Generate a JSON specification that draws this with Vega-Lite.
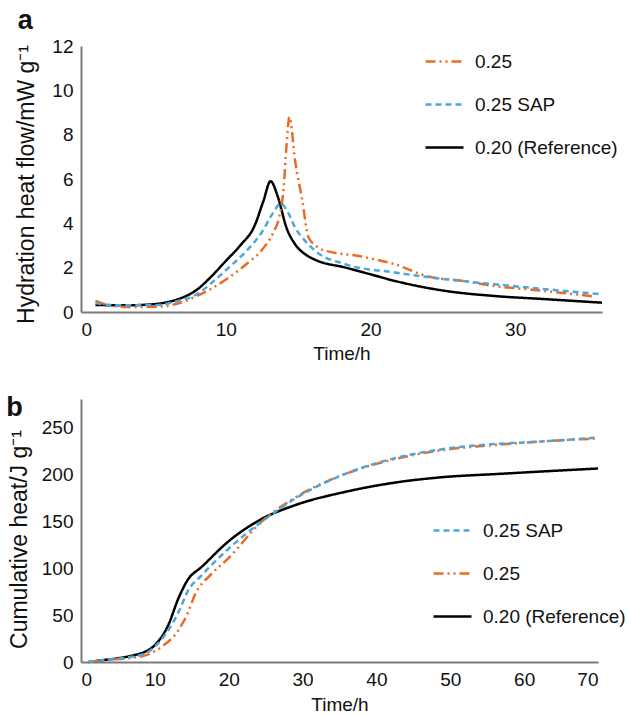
{
  "$schema": "https://vega.github.io/schema/vega-lite/v6.json",
  "background": "white",
  "padding": {"left": 6, "top": 7, "right": 0, "bottom": 5},
  "spacing": 31,
  "config": {
    "font": "Liberation Sans",
    "view": {"stroke": null},
    "axis": {
      "grid": false, "ticks": false, "domainColor": "#7a7a7a", "domainWidth": 2,
      "labelFont": "Liberation Sans", "labelFontSize": 19, "labelColor": "#111",
      "titleFont": "Liberation Sans", "titleFontSize": 19, "titleFontWeight": 400, "titleColor": "#111",
      "labelPadding": 8
    },
    "legend": {
      "labelFont": "Liberation Sans", "labelFontSize": 19, "labelColor": "#111",
      "symbolType": "stroke", "symbolSize": 1444, "symbolStrokeWidth": 2.5,
      "rowPadding": 12, "labelOffset": 10, "title": null
    },
    "title": {"font": "Liberation Sans", "fontSize": 27, "fontWeight": "bold", "anchor": "start", "frame": "bounds", "color": "#111"}
  },
  "resolve": {"scale": {"color": "independent", "strokeDash": "independent"}, "legend": {"color": "independent", "strokeDash": "independent"}},
  "vconcat": [
    {
      "title": {"text": "a", "offset": 2, "dx": 2},
      "width": 521, "height": 266,
      "data": {"values": [
        {"s": "0.20 (Reference)", "t": 1, "v": 0.32}, {"s": "0.20 (Reference)", "t": 3, "v": 0.3}, {"s": "0.20 (Reference)", "t": 5, "v": 0.35},
        {"s": "0.20 (Reference)", "t": 6, "v": 0.45}, {"s": "0.20 (Reference)", "t": 7, "v": 0.65}, {"s": "0.20 (Reference)", "t": 8, "v": 1.0},
        {"s": "0.20 (Reference)", "t": 9, "v": 1.6}, {"s": "0.20 (Reference)", "t": 10, "v": 2.3}, {"s": "0.20 (Reference)", "t": 11, "v": 3.0},
        {"s": "0.20 (Reference)", "t": 12, "v": 3.9}, {"s": "0.20 (Reference)", "t": 12.6, "v": 5.0}, {"s": "0.20 (Reference)", "t": 13.1, "v": 5.9},
        {"s": "0.20 (Reference)", "t": 13.6, "v": 5.2}, {"s": "0.20 (Reference)", "t": 14.2, "v": 3.8}, {"s": "0.20 (Reference)", "t": 14.8, "v": 3.05},
        {"s": "0.20 (Reference)", "t": 15.5, "v": 2.6}, {"s": "0.20 (Reference)", "t": 16.2, "v": 2.35}, {"s": "0.20 (Reference)", "t": 18.3, "v": 2.0},
        {"s": "0.20 (Reference)", "t": 20, "v": 1.7}, {"s": "0.20 (Reference)", "t": 21.7, "v": 1.4}, {"s": "0.20 (Reference)", "t": 25.2, "v": 0.95},
        {"s": "0.20 (Reference)", "t": 28.6, "v": 0.72}, {"s": "0.20 (Reference)", "t": 32.1, "v": 0.58}, {"s": "0.20 (Reference)", "t": 36, "v": 0.42},
        {"s": "0.25", "t": 1, "v": 0.5}, {"s": "0.25", "t": 2, "v": 0.3}, {"s": "0.25", "t": 3.5, "v": 0.22}, {"s": "0.25", "t": 5.6, "v": 0.25},
        {"s": "0.25", "t": 7, "v": 0.45}, {"s": "0.25", "t": 8, "v": 0.72}, {"s": "0.25", "t": 9, "v": 1.05}, {"s": "0.25", "t": 10.2, "v": 1.55},
        {"s": "0.25", "t": 11.5, "v": 2.2}, {"s": "0.25", "t": 12.5, "v": 2.8}, {"s": "0.25", "t": 13.3, "v": 3.6}, {"s": "0.25", "t": 13.7, "v": 4.3},
        {"s": "0.25", "t": 14.0, "v": 5.6}, {"s": "0.25", "t": 14.2, "v": 7.5}, {"s": "0.25", "t": 14.4, "v": 8.8}, {"s": "0.25", "t": 14.8, "v": 6.8},
        {"s": "0.25", "t": 15.3, "v": 5.0}, {"s": "0.25", "t": 15.7, "v": 3.4}, {"s": "0.25", "t": 16.2, "v": 3.0}, {"s": "0.25", "t": 16.7, "v": 2.8},
        {"s": "0.25", "t": 19.4, "v": 2.5}, {"s": "0.25", "t": 21.7, "v": 2.15}, {"s": "0.25", "t": 24, "v": 1.6}, {"s": "0.25", "t": 26.4, "v": 1.4},
        {"s": "0.25", "t": 28.6, "v": 1.17}, {"s": "0.25", "t": 30.9, "v": 1.02}, {"s": "0.25", "t": 33.3, "v": 0.86}, {"s": "0.25", "t": 35.5, "v": 0.7},
        {"s": "0.25 SAP", "t": 1, "v": 0.4}, {"s": "0.25 SAP", "t": 2.5, "v": 0.3}, {"s": "0.25 SAP", "t": 5, "v": 0.3}, {"s": "0.25 SAP", "t": 6.7, "v": 0.5},
        {"s": "0.25 SAP", "t": 8, "v": 0.8}, {"s": "0.25 SAP", "t": 9, "v": 1.3}, {"s": "0.25 SAP", "t": 10.2, "v": 2.0}, {"s": "0.25 SAP", "t": 11.5, "v": 2.8},
        {"s": "0.25 SAP", "t": 12.5, "v": 3.6}, {"s": "0.25 SAP", "t": 13.3, "v": 4.5}, {"s": "0.25 SAP", "t": 13.8, "v": 4.9}, {"s": "0.25 SAP", "t": 14.3, "v": 4.5},
        {"s": "0.25 SAP", "t": 14.8, "v": 3.8}, {"s": "0.25 SAP", "t": 15.5, "v": 3.2}, {"s": "0.25 SAP", "t": 16.2, "v": 2.75}, {"s": "0.25 SAP", "t": 18.3, "v": 2.15},
        {"s": "0.25 SAP", "t": 21.7, "v": 1.78}, {"s": "0.25 SAP", "t": 25.2, "v": 1.48}, {"s": "0.25 SAP", "t": 28.6, "v": 1.25}, {"s": "0.25 SAP", "t": 32.1, "v": 1.03},
        {"s": "0.25 SAP", "t": 36, "v": 0.8}
      ]},
      "mark": {"type": "line", "strokeWidth": 2.5, "interpolate": "monotone"},
      "encoding": {
        "x": {"field": "t", "type": "quantitative", "title": "Time/h", "scale": {"domain": [0, 36], "nice": false}, "axis": {"values": [0, 10, 20, 30], "titlePadding": 5}},
        "y": {"field": "v", "type": "quantitative", "title": "Hydration heat flow/mW g⁻¹", "scale": {"domain": [0, 12]}, "axis": {"values": [0, 2, 4, 6, 8, 10, 12], "titlePadding": 13, "titleFontSize": 23, "titleY": 138}},
        "color": {"field": "s", "type": "nominal", "scale": {"domain": ["0.25", "0.25 SAP", "0.20 (Reference)"], "range": ["#EC6A22", "#4AA8DE", "#000000"]},
          "legend": {"orient": "none", "legendX": 343, "legendY": -5}},
        "strokeDash": {"field": "s", "type": "nominal", "scale": {"domain": ["0.25", "0.25 SAP", "0.20 (Reference)"], "range": [[10, 4, 2, 4, 2, 4], [6, 4], [1, 0]]},
          "legend": {"orient": "none", "legendX": 343, "legendY": -5}}
      }
    },
    {
      "title": {"text": "b", "offset": -23, "dx": -2},
      "width": 517, "height": 263,
      "data": {"values": [
        {"s": "0.20 (Reference)", "t": 1, "v": 0}, {"s": "0.20 (Reference)", "t": 3, "v": 2}, {"s": "0.20 (Reference)", "t": 5, "v": 4},
        {"s": "0.20 (Reference)", "t": 7, "v": 7}, {"s": "0.20 (Reference)", "t": 8.7, "v": 11}, {"s": "0.20 (Reference)", "t": 10, "v": 18},
        {"s": "0.20 (Reference)", "t": 11.8, "v": 39}, {"s": "0.20 (Reference)", "t": 13.2, "v": 68}, {"s": "0.20 (Reference)", "t": 14.5, "v": 88},
        {"s": "0.20 (Reference)", "t": 16.3, "v": 101}, {"s": "0.20 (Reference)", "t": 19.9, "v": 128}, {"s": "0.20 (Reference)", "t": 24.4, "v": 152},
        {"s": "0.20 (Reference)", "t": 29, "v": 167}, {"s": "0.20 (Reference)", "t": 35.7, "v": 181}, {"s": "0.20 (Reference)", "t": 42.5, "v": 191},
        {"s": "0.20 (Reference)", "t": 49.3, "v": 197}, {"s": "0.20 (Reference)", "t": 56, "v": 200}, {"s": "0.20 (Reference)", "t": 62.8, "v": 203},
        {"s": "0.20 (Reference)", "t": 70, "v": 206},
        {"s": "0.25", "t": 1, "v": 0}, {"s": "0.25", "t": 3, "v": 2}, {"s": "0.25", "t": 6.4, "v": 4}, {"s": "0.25", "t": 8.7, "v": 7},
        {"s": "0.25", "t": 10.9, "v": 16}, {"s": "0.25", "t": 13.2, "v": 34}, {"s": "0.25", "t": 14.5, "v": 53}, {"s": "0.25", "t": 15.4, "v": 71},
        {"s": "0.25", "t": 17.7, "v": 94}, {"s": "0.25", "t": 19.9, "v": 110}, {"s": "0.25", "t": 24.4, "v": 149}, {"s": "0.25", "t": 29, "v": 175},
        {"s": "0.25", "t": 35.7, "v": 200}, {"s": "0.25", "t": 42.5, "v": 216}, {"s": "0.25", "t": 49.3, "v": 226}, {"s": "0.25", "t": 56, "v": 231},
        {"s": "0.25", "t": 62.8, "v": 235}, {"s": "0.25", "t": 70, "v": 238},
        {"s": "0.25 SAP", "t": 1, "v": 0}, {"s": "0.25 SAP", "t": 3, "v": 2}, {"s": "0.25 SAP", "t": 6.4, "v": 5}, {"s": "0.25 SAP", "t": 8.7, "v": 9},
        {"s": "0.25 SAP", "t": 10.9, "v": 24}, {"s": "0.25 SAP", "t": 13.2, "v": 53}, {"s": "0.25 SAP", "t": 14.5, "v": 76}, {"s": "0.25 SAP", "t": 16.3, "v": 92},
        {"s": "0.25 SAP", "t": 19.9, "v": 120}, {"s": "0.25 SAP", "t": 24.4, "v": 149}, {"s": "0.25 SAP", "t": 29, "v": 174}, {"s": "0.25 SAP", "t": 35.7, "v": 200},
        {"s": "0.25 SAP", "t": 42.5, "v": 217}, {"s": "0.25 SAP", "t": 49.3, "v": 227}, {"s": "0.25 SAP", "t": 56, "v": 232}, {"s": "0.25 SAP", "t": 62.8, "v": 235},
        {"s": "0.25 SAP", "t": 70, "v": 239}
      ]},
      "mark": {"type": "line", "strokeWidth": 2.5, "interpolate": "monotone"},
      "encoding": {
        "x": {"field": "t", "type": "quantitative", "title": "Time/h", "scale": {"domain": [0, 70], "nice": false}, "axis": {"values": [0, 10, 20, 30, 40, 50, 60, 70], "titlePadding": 6}},
        "y": {"field": "v", "type": "quantitative", "title": "Cumulative heat/J g⁻¹", "scale": {"domain": [0, 280], "nice": false}, "axis": {"values": [0, 50, 100, 150, 200, 250], "titlePadding": 10, "titleFontSize": 23, "titleY": 140}},
        "color": {"field": "s", "type": "nominal", "scale": {"domain": ["0.25 SAP", "0.25", "0.20 (Reference)"], "range": ["#4AA8DE", "#EC6A22", "#000000"]},
          "legend": {"orient": "none", "legendX": 351, "legendY": 111}},
        "strokeDash": {"field": "s", "type": "nominal", "scale": {"domain": ["0.25 SAP", "0.25", "0.20 (Reference)"], "range": [[6, 4], [10, 4, 2, 4, 2, 4], [1, 0]]},
          "legend": {"orient": "none", "legendX": 351, "legendY": 111}}
      }
    }
  ]
}
